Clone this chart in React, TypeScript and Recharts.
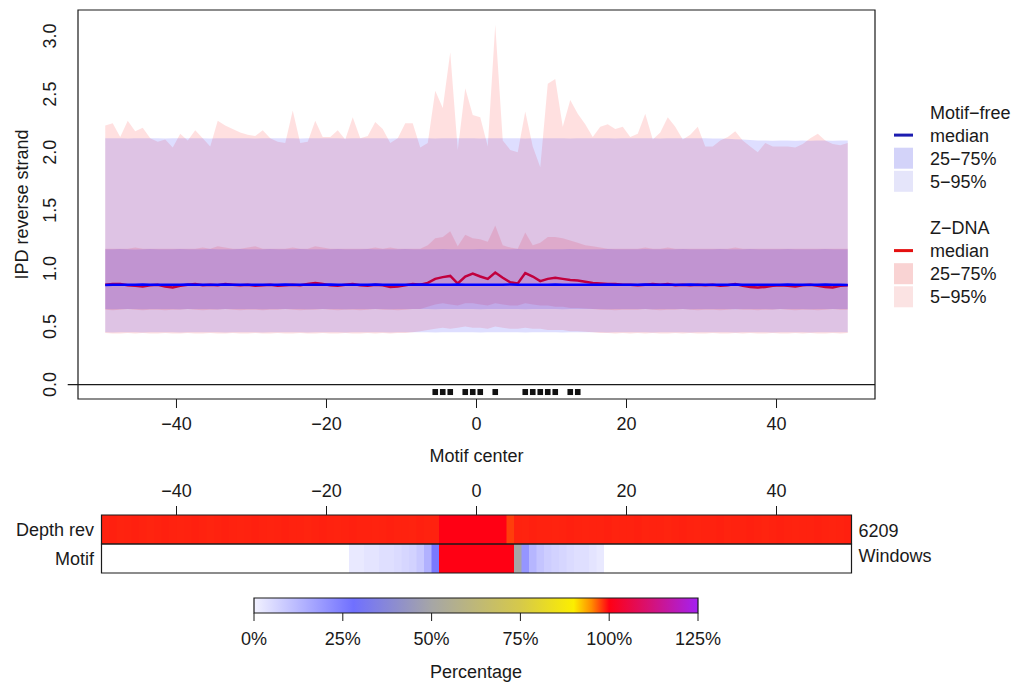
import React from 'react';
import {
  ComposedChart,
  Area,
  Line,
  Scatter,
  XAxis,
  YAxis,
  ReferenceArea,
  ReferenceLine,
} from 'recharts';

const FONT = '"Liberation Sans", Arial, Helvetica, sans-serif';
const INK = '#1a1a1a';

// Window positions relative to the motif center
const POSITIONS = [
  -49.5, -48.5, -47.5, -46.5, -45.5, -44.5, -43.5, -42.5, -41.5, -40.5,
  -39.5, -38.5, -37.5, -36.5, -35.5, -34.5, -33.5, -32.5, -31.5, -30.5,
  -29.5, -28.5, -27.5, -26.5, -25.5, -24.5, -23.5, -22.5, -21.5, -20.5,
  -19.5, -18.5, -17.5, -16.5, -15.5, -14.5, -13.5, -12.5, -11.5, -10.5,
  -9.5, -8.5, -7.5, -6.5, -5.5, -4.5, -3.5, -2.5, -1.5, -0.5,
  0.5, 1.5, 2.5, 3.5, 4.5, 5.5, 6.5, 7.5, 8.5, 9.5,
  10.5, 11.5, 12.5, 13.5, 14.5, 15.5, 16.5, 17.5, 18.5, 19.5,
  20.5, 21.5, 22.5, 23.5, 24.5, 25.5, 26.5, 27.5, 28.5, 29.5,
  30.5, 31.5, 32.5, 33.5, 34.5, 35.5, 36.5, 37.5, 38.5, 39.5,
  40.5, 41.5, 42.5, 43.5, 44.5, 45.5, 46.5, 47.5, 48.5, 49.5,
];

// Motif-free windows: IPD quantiles
const MF_MEDIAN = [
  0.858, 0.86, 0.86, 0.859, 0.86, 0.861, 0.86, 0.859, 0.86, 0.86,
  0.86, 0.861, 0.86, 0.859, 0.86, 0.86, 0.861, 0.86, 0.859, 0.86,
  0.86, 0.86, 0.859, 0.86, 0.861, 0.86, 0.86, 0.859, 0.86, 0.86,
  0.861, 0.86, 0.86, 0.859, 0.86, 0.86, 0.861, 0.86, 0.86, 0.859,
  0.86, 0.86, 0.861, 0.86, 0.859, 0.86, 0.86, 0.861, 0.86, 0.86,
  0.86, 0.859, 0.86, 0.86, 0.861, 0.86, 0.86, 0.859, 0.86, 0.86,
  0.861, 0.86, 0.86, 0.859, 0.86, 0.86, 0.86, 0.861, 0.86, 0.859,
  0.86, 0.86, 0.861, 0.86, 0.86, 0.859, 0.86, 0.86, 0.861, 0.86,
  0.86, 0.859, 0.86, 0.86, 0.861, 0.86, 0.86, 0.859, 0.86, 0.86,
  0.86, 0.861, 0.86, 0.859, 0.86, 0.86, 0.861, 0.86, 0.859, 0.858,
];
const MF_Q25 = [
  0.65, 0.649, 0.65, 0.651, 0.65, 0.649, 0.65, 0.65, 0.651, 0.65,
  0.649, 0.65, 0.65, 0.651, 0.65, 0.649, 0.65, 0.65, 0.65, 0.651,
  0.65, 0.649, 0.65, 0.65, 0.651, 0.65, 0.65, 0.649, 0.65, 0.65,
  0.651, 0.65, 0.649, 0.65, 0.65, 0.65, 0.651, 0.65, 0.649, 0.65,
  0.65, 0.65, 0.651, 0.65, 0.649, 0.65, 0.65, 0.651, 0.65, 0.65,
  0.649, 0.65, 0.65, 0.651, 0.65, 0.65, 0.649, 0.65, 0.65, 0.651,
  0.65, 0.649, 0.65, 0.65, 0.651, 0.65, 0.65, 0.649, 0.65, 0.65,
  0.651, 0.65, 0.65, 0.649, 0.65, 0.65, 0.651, 0.65, 0.649, 0.65,
  0.65, 0.651, 0.65, 0.65, 0.649, 0.65, 0.65, 0.651, 0.65, 0.649,
  0.65, 0.65, 0.651, 0.65, 0.649, 0.65, 0.65, 0.651, 0.65, 0.65,
];
const MF_Q75 = [
  1.165, 1.164, 1.166, 1.165, 1.163, 1.165, 1.166, 1.164, 1.165, 1.165,
  1.166, 1.165, 1.164, 1.165, 1.167, 1.165, 1.164, 1.165, 1.166, 1.165,
  1.164, 1.165, 1.166, 1.165, 1.165, 1.164, 1.166, 1.165, 1.165, 1.164,
  1.165, 1.166, 1.165, 1.164, 1.165, 1.166, 1.165, 1.165, 1.164, 1.165,
  1.166, 1.165, 1.164, 1.165, 1.165, 1.166, 1.165, 1.164, 1.165, 1.165,
  1.166, 1.165, 1.165, 1.164, 1.165, 1.166, 1.165, 1.164, 1.165, 1.165,
  1.164, 1.165, 1.166, 1.165, 1.165, 1.164, 1.165, 1.166, 1.165, 1.165,
  1.164, 1.165, 1.166, 1.165, 1.164, 1.165, 1.165, 1.166, 1.165, 1.164,
  1.165, 1.165, 1.166, 1.165, 1.164, 1.165, 1.166, 1.165, 1.165, 1.164,
  1.165, 1.166, 1.165, 1.164, 1.165, 1.165, 1.166, 1.165, 1.164, 1.165,
];
const MF_Q5 = [
  0.45, 0.449, 0.45, 0.451, 0.45, 0.449, 0.45, 0.45, 0.451, 0.45,
  0.449, 0.45, 0.45, 0.451, 0.45, 0.45, 0.449, 0.45, 0.45, 0.451,
  0.45, 0.449, 0.45, 0.45, 0.451, 0.45, 0.45, 0.449, 0.45, 0.45,
  0.451, 0.45, 0.449, 0.45, 0.45, 0.45, 0.451, 0.45, 0.449, 0.45,
  0.45, 0.45, 0.451, 0.45, 0.449, 0.45, 0.45, 0.451, 0.45, 0.45,
  0.449, 0.45, 0.45, 0.451, 0.45, 0.45, 0.449, 0.45, 0.45, 0.451,
  0.45, 0.449, 0.45, 0.45, 0.451, 0.45, 0.45, 0.449, 0.45, 0.45,
  0.451, 0.45, 0.45, 0.449, 0.45, 0.45, 0.451, 0.45, 0.449, 0.45,
  0.45, 0.451, 0.45, 0.45, 0.449, 0.45, 0.45, 0.451, 0.45, 0.449,
  0.45, 0.45, 0.451, 0.45, 0.449, 0.45, 0.45, 0.451, 0.45, 0.45,
];
const MF_Q95 = [
  2.12, 2.121, 2.12, 2.119, 2.12, 2.12, 2.121, 2.12, 2.119, 2.12,
  2.12, 2.121, 2.12, 2.12, 2.119, 2.12, 2.12, 2.121, 2.12, 2.12,
  2.119, 2.12, 2.12, 2.121, 2.12, 2.12, 2.119, 2.12, 2.12, 2.121,
  2.12, 2.12, 2.119, 2.12, 2.12, 2.121, 2.12, 2.12, 2.119, 2.12,
  2.12, 2.121, 2.12, 2.12, 2.119, 2.12, 2.12, 2.121, 2.12, 2.12,
  2.119, 2.12, 2.12, 2.121, 2.12, 2.12, 2.119, 2.12, 2.12, 2.121,
  2.12, 2.12, 2.119, 2.12, 2.12, 2.121, 2.12, 2.12, 2.119, 2.12,
  2.12, 2.121, 2.12, 2.12, 2.119, 2.12, 2.12, 2.121, 2.12, 2.12,
  2.12, 2.119, 2.118, 2.115, 2.112, 2.11, 2.105, 2.1, 2.1, 2.098,
  2.1, 2.101, 2.099, 2.1, 2.098, 2.1, 2.101, 2.099, 2.1, 2.1,
];

// Z-DNA windows: IPD quantiles
const ZD_MEDIAN = [
  0.86, 0.865, 0.865, 0.855, 0.85, 0.845, 0.855, 0.86, 0.845, 0.835,
  0.85, 0.86, 0.865, 0.855, 0.86, 0.855, 0.865, 0.86, 0.855, 0.86,
  0.85, 0.855, 0.86, 0.85, 0.855, 0.86, 0.855, 0.865, 0.875, 0.865,
  0.855, 0.85, 0.86, 0.865, 0.855, 0.85, 0.86, 0.855, 0.84, 0.845,
  0.855, 0.865, 0.86, 0.875, 0.91, 0.925, 0.935, 0.87, 0.93, 0.955,
  0.93, 0.91, 0.965, 0.92, 0.88, 0.87, 0.96, 0.93, 0.89, 0.91,
  0.92, 0.91, 0.9, 0.895, 0.885, 0.875, 0.87, 0.865, 0.865, 0.86,
  0.86, 0.855, 0.86, 0.865, 0.86, 0.865, 0.855, 0.86, 0.855, 0.86,
  0.855, 0.86, 0.85, 0.855, 0.865, 0.85, 0.84, 0.835, 0.84, 0.85,
  0.855, 0.85, 0.845, 0.855, 0.86, 0.85, 0.84, 0.835, 0.85, 0.855,
];
const ZD_Q25 = [
  0.645, 0.64, 0.645, 0.65, 0.645, 0.64, 0.645, 0.645, 0.64, 0.645,
  0.645, 0.65, 0.645, 0.64, 0.645, 0.645, 0.65, 0.645, 0.64, 0.645,
  0.645, 0.64, 0.645, 0.645, 0.65, 0.645, 0.64, 0.645, 0.645, 0.65,
  0.645, 0.64, 0.645, 0.645, 0.64, 0.645, 0.65, 0.645, 0.645, 0.64,
  0.645, 0.65, 0.65, 0.67, 0.69, 0.7, 0.69, 0.68, 0.7, 0.7,
  0.69, 0.68, 0.7, 0.69, 0.68, 0.68, 0.7, 0.69, 0.68, 0.68,
  0.67, 0.67, 0.66, 0.66, 0.655, 0.65, 0.645, 0.645, 0.64, 0.645,
  0.645, 0.645, 0.65, 0.645, 0.64, 0.645, 0.645, 0.65, 0.645, 0.64,
  0.645, 0.645, 0.64, 0.645, 0.65, 0.645, 0.645, 0.64, 0.645, 0.645,
  0.65, 0.645, 0.64, 0.645, 0.645, 0.64, 0.645, 0.65, 0.645, 0.645,
];
const ZD_Q75 = [
  1.17, 1.17, 1.17, 1.17, 1.18, 1.17, 1.17, 1.17, 1.17, 1.17,
  1.17, 1.17, 1.17, 1.18, 1.17, 1.19, 1.18, 1.17, 1.17, 1.18,
  1.19, 1.17, 1.17, 1.17, 1.17, 1.18, 1.17, 1.17, 1.19, 1.18,
  1.17, 1.17, 1.17, 1.17, 1.17, 1.17, 1.18, 1.17, 1.18, 1.17,
  1.17, 1.17, 1.17, 1.2, 1.26, 1.27, 1.32, 1.19, 1.29, 1.26,
  1.25, 1.23, 1.37, 1.2, 1.18, 1.17, 1.31, 1.2, 1.22, 1.27,
  1.27, 1.26, 1.24, 1.22, 1.2, 1.19, 1.18, 1.17, 1.17, 1.17,
  1.17, 1.17, 1.18, 1.17, 1.17, 1.18, 1.17, 1.17, 1.17, 1.17,
  1.17, 1.17, 1.17, 1.17, 1.18, 1.17, 1.17, 1.17, 1.17, 1.17,
  1.17, 1.17, 1.17, 1.17, 1.17, 1.17, 1.17, 1.17, 1.17, 1.17,
];
const ZD_Q5 = [
  0.445, 0.44, 0.44, 0.445, 0.44, 0.445, 0.44, 0.44, 0.445, 0.44,
  0.44, 0.445, 0.44, 0.44, 0.445, 0.44, 0.44, 0.445, 0.44, 0.44,
  0.445, 0.44, 0.44, 0.445, 0.44, 0.44, 0.445, 0.44, 0.44, 0.445,
  0.44, 0.44, 0.445, 0.44, 0.44, 0.445, 0.44, 0.445, 0.44, 0.445,
  0.445, 0.45, 0.46, 0.47, 0.48, 0.49, 0.48, 0.49, 0.5, 0.49,
  0.49, 0.48, 0.5, 0.49, 0.48, 0.48, 0.49, 0.48, 0.48, 0.47,
  0.47, 0.47, 0.46, 0.46, 0.455, 0.45, 0.445, 0.445, 0.44, 0.445,
  0.44, 0.445, 0.44, 0.445, 0.44, 0.44, 0.445, 0.44, 0.445, 0.44,
  0.44, 0.445, 0.44, 0.44, 0.445, 0.44, 0.445, 0.44, 0.44, 0.445,
  0.44, 0.44, 0.445, 0.44, 0.445, 0.44, 0.44, 0.445, 0.44, 0.445,
];
const ZD_Q95 = [
  2.23, 2.25, 2.13, 2.27, 2.18, 2.21, 2.12, 2.09, 2.11, 2.04,
  2.16, 2.1, 2.19, 2.12, 2.05, 2.27, 2.23, 2.2, 2.17, 2.15,
  2.14, 2.19, 2.12, 2.09, 2.08, 2.36, 2.08, 2.09, 2.27, 2.13,
  2.13, 2.19, 2.11, 2.3, 2.12, 2.14, 2.26, 2.2, 2.08, 2.12,
  2.25, 2.25, 2.04, 2.08, 2.53, 2.38, 2.86, 2.02, 2.55, 2.32,
  2.3, 2.05, 3.1, 2.1, 2.02, 2.0, 2.35, 2.05, 1.87, 2.59,
  2.63, 2.22, 2.45, 2.33, 2.24, 2.13, 2.22, 2.24, 2.2, 2.22,
  2.13, 2.16, 2.33, 2.11, 2.17, 2.3, 2.22, 2.11, 2.15, 2.22,
  2.05, 2.05, 2.1, 2.13, 2.18, 2.1, 2.05, 2.0, 2.08, 2.05,
  2.05, 2.05, 2.04, 2.07, 2.12, 2.16, 2.1, 2.07, 2.06, 2.08,
];

// Positions flagged along the baseline strip
const FLAGGED_POSITIONS = [-5.5, -4.5, -3.5, -1.5, -0.5, 0.5, 2.5, 6.5, 7.5, 8.5, 9.5, 10.5, 12.5, 13.5];

// Heatmap rows (percent of windows)
const DEPTH_PCT = [
  98.8, 98.85, 98.75, 98.8, 98.85, 98.8, 98.7, 98.8, 98.85, 98.8,
  98.75, 98.8, 98.85, 98.8, 98.7, 98.8, 98.85, 98.8, 98.75, 98.8,
  98.85, 98.8, 98.75, 98.8, 98.85, 98.8, 98.8, 98.7, 98.8, 98.85,
  98.8, 98.75, 98.8, 98.85, 98.8, 98.8, 98.75, 98.8, 98.85, 98.8,
  98.8, 98.75, 98.85, 98.8, 98.8, 100, 100, 100, 100, 100,
  100, 100, 100, 100, 97.8, 98.8, 98.75, 98.85, 98.8, 98.8,
  98.75, 98.8, 98.85, 98.8, 98.75, 98.8, 98.8, 98.85, 98.75, 98.8,
  98.8, 98.85, 98.75, 98.8, 98.8, 98.7, 98.8, 98.85, 98.8, 98.75,
  98.8, 98.8, 98.85, 98.75, 98.8, 98.8, 98.85, 98.8, 98.7, 98.8,
  98.85, 98.8, 98.75, 98.8, 98.8, 98.85, 98.8, 98.75, 98.8, 98.85,
];
const MOTIF_PCT = [
  0, 0, 0, 0, 0, 0, 0, 0, 0, 0,
  0, 0, 0, 0, 0, 0, 0, 0, 0, 0,
  0, 0, 0, 0, 0, 0, 0, 0, 0, 0,
  0, 0, 0, 2, 2, 3, 3, 4, 4, 5,
  6, 7, 9, 14, 26, 100, 100, 100, 100, 100,
  100, 100, 100, 100, 100, 50, 20, 13, 10, 8,
  7, 6, 5, 4, 4, 3, 2, 0, 0, 0,
  0, 0, 0, 0, 0, 0, 0, 0, 0, 0,
  0, 0, 0, 0, 0, 0, 0, 0, 0, 0,
  0, 0, 0, 0, 0, 0, 0, 0, 0, 0,
];

const X_TICKS = [-40, -20, 0, 20, 40];
const Y_TICKS = [0, 0.5, 1, 1.5, 2, 2.5, 3];
const ROW_LABELS = ['Motif', 'Depth rev'];
const ROW_NOTES = ['Windows', '6209'];
const SCALE_TICKS = [0, 25, 50, 75, 100, 125];
const SERIES_NAMES = ['Motif\u2212free', 'Z\u2212DNA'];
const BAND_NAMES = ['median', '25\u221275%', '5\u221295%'];

// Axis ranges
const X_DOMAIN: [number, number] = [-53.13, 53.13];
const Y_DOMAIN: [number, number] = [-0.124, 3.224];
const FLAG_Y = -0.064;
const HEAT_X: [number, number] = [-50, 50];
const HEAT_Y: [number, number] = [0, 2];
const HEAT_TICK = 0.31; // tick length above the heatmap, in row units
const CELL_OVERLAP = 0.12;

// Percent colour scale
const SCALE_STOPS: [number, string][] = [
  [0, '#f2f2ff'],
  [28, '#7070ff'],
  [50, '#a6a6a6'],
  [75, '#d6c94a'],
  [90, '#fcee00'],
  [95, '#ff8c00'],
  [100, '#ff0014'],
  [112, '#d4127a'],
  [125, '#a421f2'],
];

const hexToRgb = (h: string) => [1, 3, 5].map((i) => parseInt(h.slice(i, i + 2), 16));

function pctColor(v: number): string {
  if (v <= 0) return '#ffffff';
  for (let i = 1; i < SCALE_STOPS.length; i++) {
    const [p1, c1] = SCALE_STOPS[i];
    const [p0, c0] = SCALE_STOPS[i - 1];
    if (v <= p1) {
      const t = (v - p0) / (p1 - p0);
      const a = hexToRgb(c0);
      const b = hexToRgb(c1);
      const m = a.map((x, k) => Math.round(x + (b[k] - x) * t));
      return `rgb(${m[0]},${m[1]},${m[2]})`;
    }
  }
  return SCALE_STOPS[SCALE_STOPS.length - 1][1];
}

const fmtSigned = (v: number) => (v < 0 ? `\u2212${Math.abs(v)}` : String(v));

const mainData = POSITIONS.map((pos, i) => ({
  pos,
  mfMed: MF_MEDIAN[i],
  mf5: MF_Q5[i],
  mf25: MF_Q25[i],
  mf75: MF_Q75[i],
  mf95: MF_Q95[i],
  zdMed: ZD_MEDIAN[i],
  zd5: ZD_Q5[i],
  zd25: ZD_Q25[i],
  zd75: ZD_Q75[i],
  zd95: ZD_Q95[i],
}));

type Row = (typeof mainData)[number];
const mfOuter = (d: Row) => [d.mf5, d.mf95];
const mfInner = (d: Row) => [d.mf25, d.mf75];
const zdOuter = (d: Row) => [d.zd5, d.zd95];
const zdInner = (d: Row) => [d.zd25, d.zd75];

const flagData = FLAGGED_POSITIONS.map((pos) => ({ pos, y: FLAG_Y }));

const cellData = POSITIONS.map((pos, i) => ({ pos, depth: DEPTH_PCT[i], motif: MOTIF_PCT[i] }));
const scaleData = SCALE_TICKS.map((v) => ({ v }));

const textStyle = { fill: INK, fontSize: 18 };

const renderYTick = (props: any) => {
  const { x, y, payload } = props;
  return (
    <text transform={`translate(${x},${y}) rotate(-90)`} textAnchor="middle" fill={INK} fontSize={18}>
      {Number(payload.value).toFixed(1)}
    </text>
  );
};

const renderYTitle = (props: any) => {
  const vb = props && props.viewBox ? props.viewBox : { x: 0, y: 10, width: 78, height: 389 };
  return (
    <text
      transform={`translate(${vb.x + 28},${vb.y + vb.height / 2}) rotate(-90)`}
      textAnchor="middle"
      fill={INK}
      fontSize={18}
    >
      IPD reverse strand
    </text>
  );
};

const renderFlag = (props: any) => {
  const { cx, cy } = props;
  return <rect x={cx - 2.8} y={cy - 3} width={5.6} height={6} fill="#111" />;
};

const RED = '#ff0000';
const BLUE = '#0000ff';

function MainPanel() {
  return (
    <ComposedChart width={1020} height={470} data={mainData} margin={{ top: 10, right: 145, bottom: 0, left: 0 }}>
      <XAxis
        dataKey="pos"
        type="number"
        domain={X_DOMAIN}
        allowDataOverflow
        ticks={X_TICKS}
        interval={0}
        tickFormatter={fmtSigned}
        height={71}
        tickSize={9}
        tickMargin={9}
        axisLine={false}
        tickLine={{ stroke: INK }}
        tick={textStyle}
        label={{ value: 'Motif center', position: 'insideBottom', offset: 8, fill: INK, fontSize: 18 }}
      />
      <YAxis
        type="number"
        domain={Y_DOMAIN}
        allowDataOverflow
        ticks={Y_TICKS}
        interval={0}
        width={78}
        axisLine={false}
        tickLine={false}
        tickSize={0}
        tickMargin={22}
        tick={renderYTick}
        label={renderYTitle}
      />
      <Area dataKey={zdOuter} type="linear" stroke="none" fill={RED} fillOpacity={0.12} dot={false} activeDot={false} isAnimationActive={false} />
      <Area dataKey={zdInner} type="linear" stroke="none" fill={RED} fillOpacity={0.12} dot={false} activeDot={false} isAnimationActive={false} />
      <Area dataKey="zdMed" type="linear" stroke={RED} strokeWidth={2.5} fill="none" dot={false} activeDot={false} isAnimationActive={false} />
      <Area dataKey={mfOuter} type="linear" stroke="none" fill={BLUE} fillOpacity={0.13} dot={false} activeDot={false} isAnimationActive={false} />
      <Area dataKey={mfInner} type="linear" stroke="none" fill={BLUE} fillOpacity={0.13} dot={false} activeDot={false} isAnimationActive={false} />
      <Line dataKey="mfMed" type="linear" stroke={BLUE} strokeWidth={2.5} dot={false} activeDot={false} isAnimationActive={false} />
      <Scatter data={flagData} dataKey="y" shape={renderFlag} isAnimationActive={false} />
      <ReferenceLine
        segment={[{ x: -54.5, y: 0 }, { x: X_DOMAIN[1], y: 0 }]}
        stroke={INK}
        strokeWidth={1.2}
        ifOverflow="visible"
      />
      <ReferenceArea
        x1={X_DOMAIN[0]}
        x2={X_DOMAIN[1]}
        y1={Y_DOMAIN[0]}
        y2={Y_DOMAIN[1]}
        fill="none"
        stroke={INK}
        strokeWidth={1.2}
        ifOverflow="visible"
      />
    </ComposedChart>
  );
}

function SeriesKey() {
  const base = 23.5;
  const step = 23.1;
  const rows: React.ReactNode[] = [];
  const groups = [
    { name: SERIES_NAMES[0], line: '#1c1cb0', inner: '#d3d3f9', outer: '#e5e5fa' },
    { name: SERIES_NAMES[1], line: '#e41010', inner: '#f9d3d3', outer: '#fbe3e3' },
  ];
  groups.forEach((g, gi) => {
    const k0 = gi * 5;
    const bl = (k: number) => base + step * (k0 + k);
    rows.push(
      <text key={`t${gi}`} x={50} y={bl(0)} fill={INK} fontSize={18}>{g.name}</text>,
      <line key={`l${gi}`} x1={14} x2={33} y1={bl(1) - 6.5} y2={bl(1) - 6.5} stroke={g.line} strokeWidth={3} />,
      <text key={`m${gi}`} x={50} y={bl(1)} fill={INK} fontSize={18}>{BAND_NAMES[0]}</text>,
      <rect key={`a${gi}`} x={14} y={bl(2) - 6.5 - 10.5} width={19} height={21} fill={g.inner} />,
      <text key={`b${gi}`} x={50} y={bl(2)} fill={INK} fontSize={18}>{BAND_NAMES[1]}</text>,
      <rect key={`c${gi}`} x={14} y={bl(3) - 6.5 - 10.5} width={19} height={21} fill={g.outer} />,
      <text key={`d${gi}`} x={50} y={bl(3)} fill={INK} fontSize={18}>{BAND_NAMES[2]}</text>,
    );
  });
  return (
    <svg width={140} height={225} style={{ position: 'absolute', left: 880, top: 95 }}>
      {rows}
    </svg>
  );
}

function HeatPanel() {
  return (
    <ComposedChart width={1020} height={110} data={cellData} margin={{ top: 5, right: 0, bottom: 7, left: 0 }}>
      <XAxis
        xAxisId="top"
        orientation="top"
        dataKey="pos"
        type="number"
        domain={HEAT_X}
        allowDataOverflow
        ticks={X_TICKS}
        interval={0}
        tickFormatter={fmtSigned}
        height={40}
        tickSize={9}
        tickMargin={9}
        axisLine={false}
        tickLine={{ stroke: INK }}
        tick={textStyle}
      />
      <YAxis
        yAxisId="left"
        type="number"
        domain={HEAT_Y}
        allowDataOverflow
        ticks={[0.5, 1.5]}
        interval={0}
        width={101.5}
        axisLine={false}
        tickLine={false}
        tickSize={0}
        tickMargin={7.5}
        tick={textStyle}
        tickFormatter={(v: number) => ROW_LABELS[v > 1 ? 1 : 0]}
      />
      <YAxis
        yAxisId="right"
        orientation="right"
        type="number"
        domain={HEAT_Y}
        allowDataOverflow
        ticks={[0.6, 1.45]}
        interval={0}
        width={168.5}
        axisLine={false}
        tickLine={false}
        tickSize={0}
        tickMargin={7}
        tick={textStyle}
        tickFormatter={(v: number) => ROW_NOTES[v > 1 ? 1 : 0]}
      />
      {cellData.map((c) => (
        <ReferenceArea
          key={`d${c.pos}`}
          xAxisId="top"
          yAxisId="left"
          x1={c.pos - 0.5}
          x2={Math.min(c.pos + 0.5 + CELL_OVERLAP, HEAT_X[1])}
          y1={1}
          y2={2}
          fill={pctColor(c.depth)}
          fillOpacity={1}
          stroke="none"
          ifOverflow="visible"
        />
      ))}
      {cellData.map((c) => (
        <ReferenceArea
          key={`m${c.pos}`}
          xAxisId="top"
          yAxisId="left"
          x1={c.pos - 0.5}
          x2={Math.min(c.pos + 0.5 + CELL_OVERLAP, HEAT_X[1])}
          y1={0}
          y2={1}
          fill={pctColor(c.motif)}
          fillOpacity={1}
          stroke="none"
          ifOverflow="visible"
        />
      ))}
      <ReferenceArea xAxisId="top" yAxisId="left" x1={HEAT_X[0]} x2={HEAT_X[1]} y1={1} y2={2} fill="none" stroke={INK} strokeWidth={1.2} ifOverflow="visible" />
      <ReferenceArea xAxisId="top" yAxisId="left" x1={HEAT_X[0]} x2={HEAT_X[1]} y1={0} y2={1} fill="none" stroke={INK} strokeWidth={1.2} ifOverflow="visible" />
      {X_TICKS.map((t) => (
        <ReferenceLine
          key={`tk${t}`}
          xAxisId="top"
          yAxisId="left"
          segment={[{ x: t, y: HEAT_Y[1] }, { x: t, y: HEAT_Y[1] + HEAT_TICK }]}
          stroke={INK}
          strokeWidth={1}
          ifOverflow="visible"
        />
      ))}
    </ComposedChart>
  );
}

function ScalePanel() {
  const maxPct = SCALE_STOPS[SCALE_STOPS.length - 1][0];
  return (
    <ComposedChart width={1020} height={105} data={scaleData} margin={{ top: 18, right: 322, bottom: 0, left: 254 }}>
      <defs>
        <linearGradient id="pctScale" x1="0" y1="0" x2="1" y2="0">
          {SCALE_STOPS.map(([p, c]) => (
            <stop key={p} offset={`${(p / maxPct) * 100}%`} stopColor={c} />
          ))}
        </linearGradient>
      </defs>
      <XAxis
        dataKey="v"
        type="number"
        domain={[0, 125]}
        allowDataOverflow
        ticks={SCALE_TICKS}
        interval={0}
        tickFormatter={(v: number) => `${v}%`}
        height={72}
        tickSize={8}
        tickMargin={11}
        axisLine={false}
        tickLine={{ stroke: INK }}
        tick={textStyle}
        label={{ value: 'Percentage', position: 'insideBottom', offset: 7, fill: INK, fontSize: 18 }}
      />
      <YAxis hide type="number" domain={[0, 1]} allowDataOverflow />
      <ReferenceArea
        x1={0}
        x2={125}
        y1={0}
        y2={1}
        fill="url(#pctScale)"
        fillOpacity={1}
        stroke={INK}
        strokeWidth={1.2}
        ifOverflow="visible"
      />
    </ComposedChart>
  );
}

export default function App() {
  return (
    <div
      style={{
        position: 'absolute',
        left: 0,
        top: 0,
        width: 1020,
        height: 685,
        background: '#ffffff',
        fontFamily: FONT,
        overflow: 'hidden',
      }}
    >
      <div style={{ position: 'absolute', left: 0, top: 0 }}>
        <MainPanel />
      </div>
      <SeriesKey />
      <div style={{ position: 'absolute', left: 0, top: 470 }}>
        <HeatPanel />
      </div>
      <div style={{ position: 'absolute', left: 0, top: 580 }}>
        <ScalePanel />
      </div>
    </div>
  );
}
